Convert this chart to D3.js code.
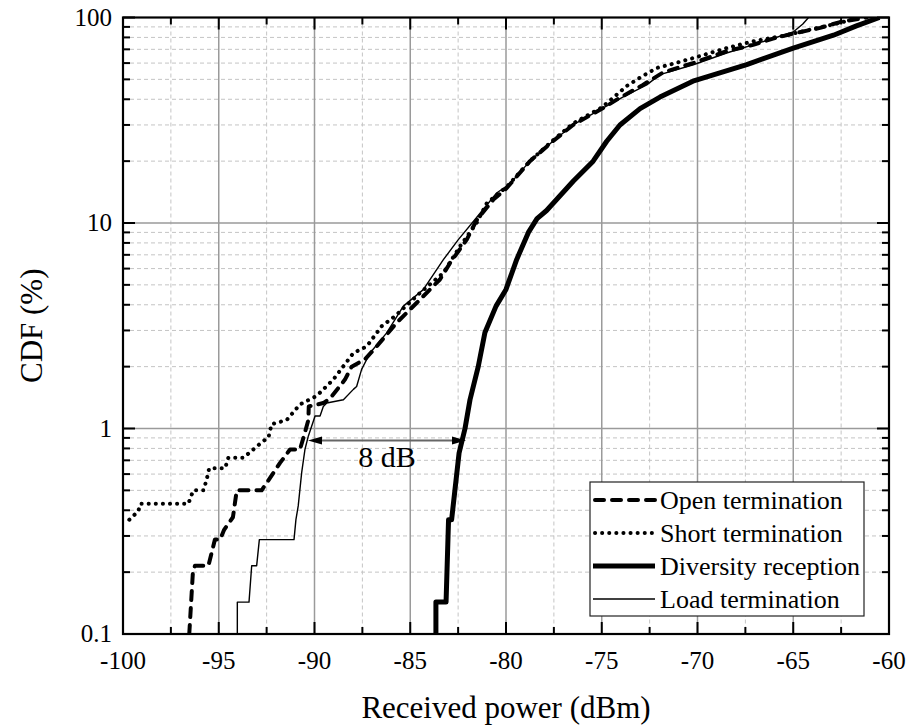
<!DOCTYPE html>
<html><head><meta charset="utf-8">
<script src="https://cdn.jsdelivr.net/npm/d3@7"></script>
<style>body{margin:0;background:#fff}svg{display:block}text{font-family:"Liberation Serif","Times New Roman",serif;fill:#000}</style>
</head><body><div id="chart"></div>
<script>
const xTicks = [-100,-95,-90,-85,-80,-75,-70,-65,-60];
const yTicks = [0.1,1,10,100];
const yTickLabels = ["0.1","1","10","100"];
const seriesNames = ["Open termination","Short termination","Diversity reception","Load termination"];

const openTerm = [[-96.54,0.1],[-96.35,0.2],[-96.24,0.215],[-95.54,0.215],[-95.2,0.288],[-94.93,0.288],[-94.73,0.32],[-94.26,0.37],[-94.06,0.5],[-92.76,0.5],[-92.32,0.575],[-91.8,0.68],[-91.28,0.79],[-90.76,0.79],[-90.58,0.9],[-90.32,1.1],[-90.3,1.28],[-89.54,1.33],[-89.19,1.4],[-88.41,1.73],[-88.06,2.0],[-87.37,2.17],[-86.75,2.51],[-85.71,3.27],[-84.66,4.09],[-83.45,5.31],[-82.92,6.39],[-82.05,8.3],[-81.54,10.3],[-80.66,13.0],[-79.96,14.8],[-78.75,20],[-77.55,25],[-76.5,30],[-74.92,36.3],[-74.05,40.7],[-72.85,47],[-71.8,54],[-70.24,60],[-68.48,68.5],[-67.1,73.6],[-66.06,79],[-65.0,83.5],[-63.6,89],[-62.56,95],[-61.17,100]];
const shortTerm = [[-99.67,0.36],[-99.2,0.396],[-99.1,0.43],[-96.59,0.43],[-96.33,0.5],[-95.8,0.5],[-95.63,0.565],[-95.5,0.64],[-94.67,0.64],[-94.5,0.72],[-93.72,0.72],[-93.2,0.79],[-92.67,0.87],[-92.41,0.9],[-92.24,1.05],[-91.45,1.1],[-90.76,1.31],[-89.89,1.44],[-89.02,1.73],[-87.97,2.33],[-87.27,2.51],[-86.49,3.15],[-85.8,3.52],[-84.49,4.57],[-83.27,5.72],[-82.4,7.7],[-81.54,10],[-81.0,12.5],[-79.96,15],[-78.75,20],[-77.6,25],[-76.5,30.5],[-75.0,36.5],[-74.4,40.7],[-73.7,46.4],[-73.0,51],[-72.13,56.8],[-71.44,59],[-70.22,63.5],[-68.48,71],[-67.09,76.6],[-65.35,82],[-64.65,85],[-63.25,91],[-62.21,96],[-61.5,100]];
const diversity = [[-83.66,0.1],[-83.66,0.143],[-83.13,0.143],[-83.0,0.36],[-82.84,0.36],[-82.45,0.76],[-82.14,1.0],[-81.88,1.38],[-81.45,2.0],[-81.1,2.93],[-80.52,3.94],[-80.0,4.75],[-79.44,6.65],[-78.83,9.0],[-78.38,10.5],[-77.88,11.5],[-76.48,16],[-75.45,20],[-74.74,25],[-74.05,30],[-73.0,36],[-71.96,41],[-70.24,49],[-67.43,59],[-65.0,71],[-62.9,82],[-61.7,91],[-60.5,100]];
const loadTerm = [[-94.03,0.1],[-94.03,0.143],[-93.42,0.143],[-93.28,0.215],[-93.02,0.215],[-92.88,0.288],[-91.07,0.288],[-90.97,0.36],[-90.85,0.42],[-90.67,0.61],[-90.5,0.79],[-90.32,0.92],[-89.97,1.15],[-89.71,1.15],[-89.54,1.28],[-89.36,1.33],[-88.49,1.38],[-87.97,1.55],[-87.8,1.6],[-87.54,1.94],[-87.1,2.33],[-86.23,2.92],[-85.36,3.94],[-84.32,4.74],[-83.27,6.63],[-82.49,8.3],[-81.62,10.4],[-80.49,14],[-79.8,15.5],[-78.75,20],[-77.55,25],[-76.5,30],[-74.92,36.3],[-73.9,41],[-72.65,47],[-71.96,52.7],[-70.22,58.9],[-68.48,67.2],[-66.74,75.5],[-65.0,85],[-64.5,93],[-64.2,100]];
const arrowSpan = [-90.34,-82.09];
const arrowLevel = 0.874;
const arrowLabel = "8 dB";

const W=908,H=727;
const m={l:123,r:19,t:17.5,b:93};
const svg=d3.select("#chart").append("svg").attr("width",W).attr("height",H);
const x=d3.scaleLinear().domain([-100,-60]).range([m.l,W-m.r]);
const y=d3.scaleLog().domain([0.1,100]).range([H-m.b,m.t]);

svg.append("defs").append("clipPath").attr("id","clip").append("rect")
 .attr("x",x(-100)).attr("y",y(100)).attr("width",x(-60)-x(-100)).attr("height",y(0.1)-y(100));

const minorX=d3.range(-97.5,-60,5);
const minorY=[];[0.1,1,10].forEach(d=>{for(let k=2;k<=9;k++)minorY.push(d*k);});
const g=svg.append("g");
g.selectAll(".mx").data(minorX).enter().append("line").attr("x1",d=>x(d)).attr("x2",d=>x(d)).attr("y1",y(100)).attr("y2",y(0.1)).attr("stroke","#c4c4c4").attr("stroke-width",1).attr("stroke-dasharray","4,3");
g.selectAll(".my").data(minorY).enter().append("line").attr("y1",d=>y(d)).attr("y2",d=>y(d)).attr("x1",x(-100)).attr("x2",x(-60)).attr("stroke","#c4c4c4").attr("stroke-width",1).attr("stroke-dasharray","4,3");
g.selectAll(".Mx").data(xTicks.slice(1,-1)).enter().append("line").attr("x1",d=>x(d)).attr("x2",d=>x(d)).attr("y1",y(100)).attr("y2",y(0.1)).attr("stroke","#9a9a9a").attr("stroke-width",1.5);
g.selectAll(".My").data([1,10]).enter().append("line").attr("y1",d=>y(d)).attr("y2",d=>y(d)).attr("x1",x(-100)).attr("x2",x(-60)).attr("stroke","#9a9a9a").attr("stroke-width",1.5);

const line=d3.line().x(d=>x(d[0])).y(d=>y(d[1]));
const cg=svg.append("g").attr("clip-path","url(#clip)");
const styles=[
 {data:openTerm,w:4,dash:"9,8",cap:"round"},
 {data:shortTerm,w:4,dash:"0.1,7",cap:"round"},
 {data:diversity,w:5,dash:null,cap:"butt"},
 {data:loadTerm,w:1.4,dash:null,cap:"butt"}];
styles.forEach(s=>{
 cg.append("path").datum(s.data).attr("d",line).attr("fill","none").attr("stroke","#000")
  .attr("stroke-width",s.w).attr("stroke-dasharray",s.dash).attr("stroke-linecap",s.cap).attr("stroke-linejoin","round");
});

// arrow annotation
const ay=y(arrowLevel);
svg.append("line").attr("x1",x(arrowSpan[0])+12).attr("x2",x(arrowSpan[1])-12).attr("y1",ay).attr("y2",ay).attr("stroke","#666").attr("stroke-width",2);
svg.append("path").attr("d",`M${x(arrowSpan[0])},${ay}L${x(arrowSpan[0])+14},${ay-4}L${x(arrowSpan[0])+14},${ay+4}Z`).attr("fill","#000");
svg.append("path").attr("d",`M${x(arrowSpan[1])},${ay}L${x(arrowSpan[1])-14},${ay-4}L${x(arrowSpan[1])-14},${ay+4}Z`).attr("fill","#000");
svg.append("text").attr("x",(x(arrowSpan[0])+x(arrowSpan[1]))/2).attr("y",ay+26).attr("text-anchor","middle").attr("font-size",30).text(arrowLabel);

// axes
const ax=svg.append("g");
const minorXT=d3.range(-97.5,-60,5);
function tickLinesX(yy,dir){
 ax.selectAll(null).data(xTicks).enter().append("line").attr("x1",d=>x(d)).attr("x2",d=>x(d)).attr("y1",yy).attr("y2",yy+dir*12).attr("stroke","#000").attr("stroke-width",2);
 ax.selectAll(null).data(minorXT).enter().append("line").attr("x1",d=>x(d)).attr("x2",d=>x(d)).attr("y1",yy).attr("y2",yy+dir*7).attr("stroke","#000").attr("stroke-width",2);
}
function tickLinesY(xx,dir){
 ax.selectAll(null).data(yTicks).enter().append("line").attr("y1",d=>y(d)).attr("y2",d=>y(d)).attr("x1",xx).attr("x2",xx+dir*12).attr("stroke","#000").attr("stroke-width",2);
 ax.selectAll(null).data(minorY).enter().append("line").attr("y1",d=>y(d)).attr("y2",d=>y(d)).attr("x1",xx).attr("x2",xx+dir*7).attr("stroke","#000").attr("stroke-width",2);
}
tickLinesX(y(0.1),-1);tickLinesX(y(100),1);tickLinesY(x(-100),1);tickLinesY(x(-60),-1);
ax.append("rect").attr("x",x(-100)).attr("y",y(100)).attr("width",x(-60)-x(-100)).attr("height",y(0.1)-y(100)).attr("fill","none").attr("stroke","#000").attr("stroke-width",2.2);

ax.selectAll(null).data(xTicks).enter().append("text").attr("x",d=>x(d)).attr("y",y(0.1)+35).attr("text-anchor","middle").attr("font-size",25).text(d=>d);
ax.selectAll(null).data(yTicks).enter().append("text").attr("x",x(-100)-11).attr("y",d=>y(d)+8).attr("text-anchor","end").attr("font-size",25).text((d,i)=>yTickLabels[i]);

svg.append("text").attr("x",(x(-100)+x(-60))/2).attr("y",718).attr("text-anchor","middle").attr("font-size",31).text("Received power (dBm)");
svg.append("text").attr("transform",`translate(42,${(y(0.1)+y(100))/2}) rotate(-90)`).attr("text-anchor","middle").attr("font-size",31).text("CDF (%)");

// legend
const lg=svg.append("g").attr("transform","translate(590,482)");
lg.append("rect").attr("width",274).attr("height",134).attr("fill","#fff").attr("stroke","#222").attr("stroke-width",1.2);
seriesNames.forEach((n,i)=>{
 const s=styles[i], yy=18+i*33;
 lg.append("line").attr("x1",s.cap==="round"?5:3).attr("x2",65).attr("y1",yy).attr("y2",yy).attr("stroke","#000").attr("stroke-width",s.w).attr("stroke-dasharray",s.dash).attr("stroke-linecap",s.cap);
 lg.append("text").attr("x",70).attr("y",yy+9).attr("font-size",26).text(n);
});
</script></body></html>
